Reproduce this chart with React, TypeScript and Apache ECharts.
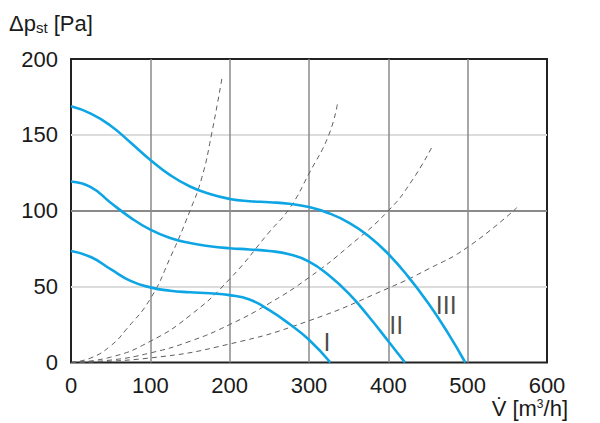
import React, { useEffect, useRef } from "react";
import * as echarts from "echarts";

// Fan curves (flow m3/h, static pressure Pa)
const curveI: [number, number][] = [
  [0, 73.5], [25, 69.5], [50, 61.5], [75, 53.8], [100, 49.5], [125, 47.3], [150, 46.3], [175, 45.6],
  [200, 44.4], [225, 41.5], [250, 34.5], [275, 25.5], [300, 15], [327, 0],
];
const curveII: [number, number][] = [
  [0, 119.3], [25, 115.6], [50, 105.3], [75, 95.5], [100, 87.5], [125, 82], [150, 78.7], [175, 76.6],
  [200, 75.3], [225, 74.5], [250, 73.5], [275, 71.3], [300, 66.5], [325, 57.5], [350, 45.5],
  [375, 30.5], [400, 14], [421, 0],
];
const curveIII: [number, number][] = [
  [0, 168.8], [25, 164], [50, 156], [75, 145], [100, 133.5], [125, 123.5], [150, 116], [175, 111],
  [200, 107.8], [225, 106.3], [250, 105.6], [275, 104.6], [300, 102.4], [325, 98.4], [350, 92.2],
  [375, 83.4], [400, 71.5], [425, 56.6], [450, 39.3], [475, 19.5], [497, 0],
];

// System resistance curves (dashed)
const system1: [number, number][] = [
  [0, 0], [25, 3], [50, 11], [70, 22], [100, 42], [125, 69], [150, 100], [165, 122], [177, 150], [190.5, 188],
];
const system2: [number, number][] = [
  [0, 0], [50, 3.5], [100, 14], [150, 31], [200, 55], [250, 86], [276, 102], [300, 124.5], [325, 150], [336, 171],
];
const system3: [number, number][] = [
  [0, 0], [50, 1.6], [100, 6.3], [150, 14], [200, 25], [250, 39], [300, 56], [350, 76.5], [400, 100], [430, 120], [455.6, 142.6],
];
const system4: [number, number][] = [
  [0, 0], [100, 3], [200, 12.2], [300, 27.5], [400, 49], [450, 61.5], [500, 76], [562, 102],
];

// Curve labels
const curveLabels: { name: string; value: [number, number] }[] = [
  { name: "I", value: [322.6, 13.7] },
  { name: "II", value: [410, 24.7] },
  { name: "III", value: [473, 37.9] },
];

const xMin = 0, xMax = 600, xStep = 100;
const yMin = 0, yMax = 200, yStep = 50;

const BLUE = "#0ea5e4";
const FONT = "'Liberation Sans', Arial, sans-serif";

export default function App() {
  const ref = useRef<HTMLDivElement>(null);
  useEffect(() => {
    if (!ref.current) return;
    const chart = echarts.init(ref.current, undefined, { renderer: "svg" });
    const fanSeries = [curveI, curveII, curveIII].map((d, i) => ({
      type: "line",
      name: ["I", "II", "III"][i],
      data: d,
      smooth: 0.5,
      showSymbol: false,
      lineStyle: { color: BLUE, width: 2.6 },
      z: 5,
    }));
    const sysSeries = [system1, system2, system3, system4].map((d) => ({
      type: "line",
      data: d,
      smooth: true,
      showSymbol: false,
      lineStyle: { color: "#5e5e5e", width: 1, type: [5, 4] },
      z: 3,
    }));
    chart.setOption({
      animation: false,
      textStyle: { fontFamily: FONT },
      grid: {
        left: 71, top: 59, width: 476, height: 303.5,
        show: true, borderColor: "#222", borderWidth: 2, backgroundColor: "transparent",
      },
      xAxis: {
        type: "value", min: xMin, max: xMax, interval: xStep,
        axisLine: { show: false }, axisTick: { show: false },
        axisLabel: { color: "#1a1a1a", fontSize: 22, fontFamily: FONT, margin: 12 },
        splitLine: { show: true, showMinLine: false, showMaxLine: false, lineStyle: { color: "#8a8a8a", width: 1.5 } },
      },
      yAxis: {
        type: "value", min: yMin, max: yMax, interval: yStep,
        axisLine: { show: false }, axisTick: { show: false },
        axisLabel: { color: "#1a1a1a", fontSize: 22, fontFamily: FONT, margin: 13 },
        splitLine: { show: true, showMinLine: false, showMaxLine: false, lineStyle: { color: ["#dcdcdc", "#8a8a8a"], width: 2 } },
      },
      series: [
        ...sysSeries,
        ...fanSeries,
        {
          type: "scatter",
          data: curveLabels,
          symbolSize: 0,
          z: 6,
          label: {
            show: true, position: "inside", formatter: (p: any) => p.name,
            color: "#1a1a1a", fontSize: 25, fontFamily: FONT,
          },
        },
      ],
      graphic: [
        {
          type: "text", left: 9, top: 12,
          style: {
            text: "{a|Δp}{b|st}{a| [Pa]}",
            rich: {
              a: { fontSize: 22, fontFamily: FONT, fill: "#1a1a1a" },
              b: { fontSize: 15, fontFamily: FONT, fill: "#1a1a1a", padding: [8, 0, 0, 0] },
            },
          },
        },
        {
          type: "text", right: 32, top: 397,
          style: {
            text: "V\u0307 [m{s|3}/h]",
            fontSize: 22, fontFamily: FONT, fill: "#1a1a1a",
            rich: { s: { fontSize: 12, fontFamily: FONT, fill: "#1a1a1a", padding: [0, 0, 8, 0] } },
          },
        },
      ],
    });
    return () => chart.dispose();
  }, []);
  return <div ref={ref} style={{ width: 600, height: 423, position: "absolute", left: 0, top: 0 }} />;
}
